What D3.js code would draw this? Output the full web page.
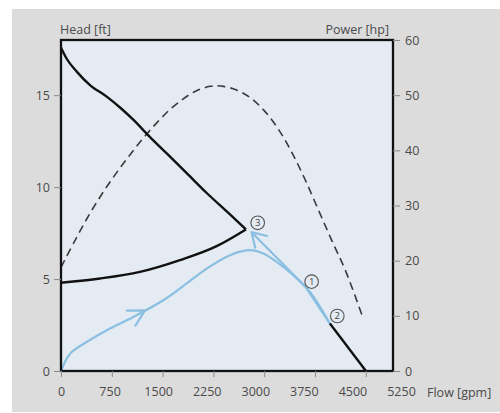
<!DOCTYPE html>
<html>
<head>
<meta charset="utf-8">
<script src="https://cdn.jsdelivr.net/npm/d3@7"></script>
<style>
  html, body { margin: 0; padding: 0; background: #fff; }
  svg { display: block; }
  text { font-family: "Open Sans", "Noto Sans", sans-serif; }
</style>
</head>
<body>
<svg id="chart" width="500" height="413"></svg>
<script>
// Flow axis ticks [gpm]
const flowTicks = [0, 750, 1500, 2250, 3000, 3750, 4500, 5250];
// Head axis ticks [ft]
const headTicks = [0, 5, 10, 15];
// Power axis ticks [hp]
const powerTicks = [0, 10, 20, 30, 40, 50, 60];

// Pump curve: head vs flow
const pumpFlow = [0, 84, 232, 428, 675, 871, 1063, 1314, 1561, 1856, 2151, 2495, 2730];
const pumpHead = [17.58, 16.98, 16.28, 15.55, 14.92, 14.33, 13.68, 12.72, 11.83, 10.76, 9.68, 8.52, 7.7];

// Lower branch returning to the head axis
const lowFlow = [0, 576, 1166, 1756, 2298, 2730];
const lowHead = [4.8, 5.03, 5.39, 6.03, 6.79, 7.7];

// Tail of the pump curve down to zero head
const tailFlow = [3970, 4502];
const tailHead = [2.58, 0];

// Power curve (dashed)
const powFlow = [0, 200, 400, 600, 800, 1000, 1200, 1400, 1600, 1800, 2000, 2200, 2300, 2400, 2600, 2800, 3000, 3200, 3400, 3600, 3800, 4000, 4200, 4462];
const powValue = [18.8, 23.5, 28.0, 32.0, 35.6, 38.9, 42.0, 44.8, 47.3, 49.3, 50.8, 51.6, 51.7, 51.6, 50.9, 49.5, 47.2, 44.0, 39.8, 34.8, 29.2, 23.6, 18.2, 9.5];

// Operating path (blue), rising from the origin
const runFlow = [0, 84, 158, 379, 723, 1067, 1510, 1855, 2151, 2495, 2790, 2986, 3184, 3429, 3675, 3970];
const runHead = [0, 0.67, 1.03, 1.58, 2.31, 2.94, 3.85, 4.76, 5.57, 6.30, 6.57, 6.39, 5.93, 5.21, 4.30, 2.58];

// Return path (blue) back up to point 3
const backFlow = [3970, 3616, 2814];
const backHead = [2.58, 4.55, 7.55];

// Arrow on the rising path
const arrowFlow = 1240;

// Numbered markers
const markNames = ["1", "2", "3"];
const markFlow = [3700, 4079, 2904];
const markHead = [4.86, 2.99, 8.06];

const svg = d3.select("#chart");
const W = 500, H = 413;
const mLeft = 61, mTop = 40, mBottom = 371, mRight = 393;

const x = d3.scaleLinear().domain([0, 5250]).range([mLeft, mLeft + 7 * 50.8]);
const xLabel = d3.scaleLinear().domain([0, 5250]).range([mLeft, 401]);
const yH = d3.scaleLinear().domain([0, 18]).range([mBottom, mTop]);
const yP = d3.scaleLinear().domain([0, 60]).range([mBottom, mTop]);

// backdrop
svg.append("rect").attr("x", 12).attr("y", 9).attr("width", W - 12).attr("height", 403).attr("fill", "#dcdcdc");
svg.append("rect").attr("x", mLeft).attr("y", mTop).attr("width", mRight - mLeft).attr("height", mBottom - mTop).attr("fill", "#e4ebf3");

const zip = (a, b) => a.map((v, i) => [v, b[i]]);
const lineH = d3.line().x(d => x(d[0])).y(d => yH(d[1])).curve(d3.curveMonotoneX);
const lineRun = d3.line().x(d => x(d[0])).y(d => yH(d[1])).curve(d3.curveCatmullRom.alpha(0.5));
const lineP = d3.line().x(d => x(d[0])).y(d => yP(d[1])).curve(d3.curveCatmullRom.alpha(0.5));
const lineStraight = d3.line().x(d => x(d[0])).y(d => yH(d[1]));

const plot = svg.append("g");

// power (dashed)
plot.append("path").attr("d", lineP(zip(powFlow, powValue)))
  .attr("fill", "none").attr("stroke", "#3a3a3a").attr("stroke-width", 1.6)
  .attr("stroke-dasharray", "8,5");

// blue operating paths
const blue = "#8bbfe2";
plot.append("path").attr("d", lineRun(zip(runFlow, runHead)))
  .attr("fill", "none").attr("stroke", blue).attr("stroke-width", 2.2).attr("stroke-linejoin", "round");
plot.append("path").attr("d", lineStraight(zip(backFlow, backHead)))
  .attr("fill", "none").attr("stroke", blue).attr("stroke-width", 2.2).attr("stroke-linejoin", "round");

// black head curves
plot.append("path").attr("d", lineH(zip(pumpFlow, pumpHead)))
  .attr("fill", "none").attr("stroke", "#111").attr("stroke-width", 2.4);
plot.append("path").attr("d", lineH(zip(lowFlow, lowHead)))
  .attr("fill", "none").attr("stroke", "#111").attr("stroke-width", 2.4);
plot.append("path").attr("d", lineStraight(zip(tailFlow, tailHead)))
  .attr("fill", "none").attr("stroke", "#111").attr("stroke-width", 2.4);

// open chevron arrowheads
function chevron(tip, from, len, spread) {
  const ang = Math.atan2(from[1] - tip[1], from[0] - tip[0]);
  const a1 = ang - spread, a2 = ang + spread;
  const p = d3.path();
  p.moveTo(tip[0] + len * Math.cos(a1), tip[1] + len * Math.sin(a1));
  p.lineTo(tip[0], tip[1]);
  p.lineTo(tip[0] + len * Math.cos(a2), tip[1] + len * Math.sin(a2));
  plot.append("path").attr("d", p.toString()).attr("fill", "none")
    .attr("stroke", blue).attr("stroke-width", 2.2).attr("stroke-linejoin", "round").attr("stroke-linecap", "round");
}
{
  const i = d3.bisectLeft(runFlow, arrowFlow);
  const t = (arrowFlow - runFlow[i - 1]) / (runFlow[i] - runFlow[i - 1]);
  const h = runHead[i - 1] + t * (runHead[i] - runHead[i - 1]);
  chevron([x(arrowFlow), yH(h)], [x(runFlow[i - 1]), yH(runHead[i - 1])], 18, 0.5);
  const n = backFlow.length;
  chevron([x(backFlow[n - 1]), yH(backHead[n - 1])], [x(backFlow[n - 2]), yH(backHead[n - 2])], 16, 0.55);
}

// numbered markers
const marks = plot.selectAll("g.mark").data(markNames).join("g")
  .attr("transform", (d, i) => `translate(${x(markFlow[i])},${yH(markHead[i])})`);
marks.append("circle").attr("r", 6.8).attr("fill", "none").attr("stroke", "#555").attr("stroke-width", 1.1);
marks.append("text").text(d => d).attr("text-anchor", "middle").attr("dy", "0.36em")
  .attr("font-size", 9.5).attr("fill", "#444");

// frame
svg.append("rect").attr("x", mLeft).attr("y", mTop).attr("width", mRight - mLeft).attr("height", mBottom - mTop)
  .attr("fill", "none").attr("stroke", "#111").attr("stroke-width", 2.3);

// axes
const tickColor = "#888", textColor = "#4a4a4a", fs = 12.5;
const fmt = d3.format("d");
function style(g) {
  g.select(".domain").remove();
  g.selectAll(".tick line").attr("stroke", tickColor);
  g.selectAll(".tick text").attr("fill", textColor).attr("font-size", fs).attr("font-family", "'Open Sans', sans-serif");
}
svg.append("g").attr("transform", `translate(${mLeft},0)`)
  .call(d3.axisLeft(yH).tickValues(headTicks).tickFormat(fmt).tickSize(7).tickPadding(4)).call(style);
svg.append("g").attr("transform", `translate(${mRight},0)`)
  .call(d3.axisRight(yP).tickValues(powerTicks).tickFormat(fmt).tickSize(7).tickPadding(5)).call(style);
svg.append("g").attr("transform", `translate(0,${mBottom})`)
  .call(d3.axisBottom(x).tickValues(flowTicks.filter(v => x(v) <= mRight)).tickSize(6).tickFormat("")).call(style);
svg.append("g").attr("transform", `translate(0,${mBottom})`)
  .call(d3.axisBottom(xLabel).tickValues(flowTicks).tickFormat(fmt).tickSize(0).tickPadding(16)).call(style);

// axis titles
svg.append("text").attr("x", 60).attr("y", 33.5).text("Head [ft]")
  .attr("font-size", 12.5).attr("fill", textColor);
svg.append("text").attr("x", 389).attr("y", 33.5).attr("text-anchor", "end").text("Power [hp]")
  .attr("font-size", 12.5).attr("fill", textColor);
svg.append("text").attr("x", 427).attr("y", 396.5).text("Flow [gpm]")
  .attr("font-size", 12.5).attr("fill", textColor);
</script>
</body>
</html>
